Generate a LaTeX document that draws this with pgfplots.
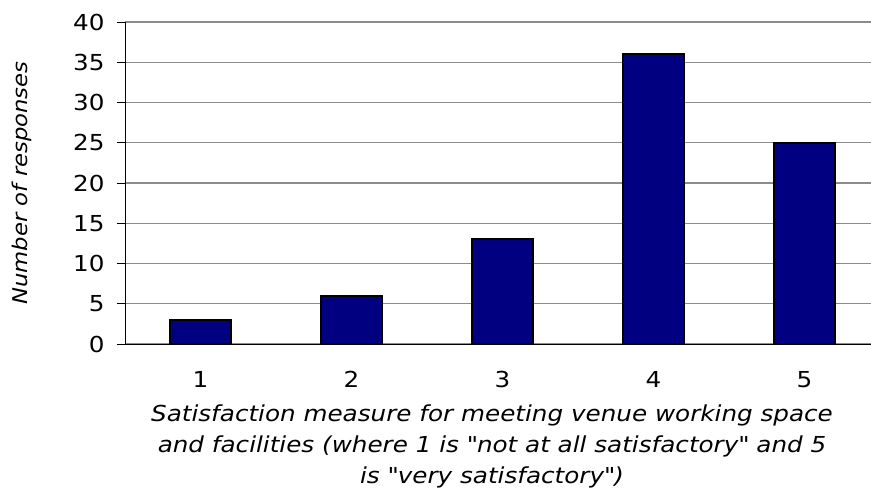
\documentclass[border=0pt]{standalone}
\usepackage{pgfplots}
\pgfplotsset{compat=1.18}
\usepackage{fontspec}
\setmainfont[FakeStretch=1.12]{DejaVu Sans}
\begin{document}
\fontsize{22bp}{31bp}\selectfont
\begin{tikzpicture}
\begin{axis}[
  scale only axis,
  width=746bp, height=322bp,
  xmin=0.5, xmax=5.44,
  ymin=0, ymax=40,
  axis x line=bottom, axis y line=left,
  axis line style={-, black, line width=0.9bp},
  ytick={0,5,...,40},
  ymajorgrids,
  grid style={gray!90, line width=1.2bp},
  y tick style={black, line width=0.9bp},
  major tick length=8bp,
  tick align=outside,
  xtick={1,2,3,4,5},
  x tick style={draw=none},
  extra x ticks={0.5,1.5,2.5,3.5,4.5},
  extra x tick labels={},
  extra x tick style={major tick length=8bp, tick style={draw=black, line width=0.9bp}, grid=none},
  /pgf/number format/assume math mode=true,
  tick label style={font=\fontsize{22bp}{26bp}\selectfont},
  yticklabel style={xshift=-5bp},
  xticklabel style={yshift=-12bp},
  ylabel={\itshape Number of responses},
  ylabel style={font=\fontsize{20.3bp}{24bp}\selectfont, at={(rel axis cs:0,0.5)}, anchor=center, yshift=103bp},
  xlabel={\itshape Satisfaction measure for meeting venue working space\\\itshape and facilities (where 1 is \textquotedbl not at all satisfactory\textquotedbl{} and 5\\\itshape is \textquotedbl very satisfactory\textquotedbl)},
  xlabel style={font=\fontsize{22bp}{31bp}\selectfont, align=center, yshift=14bp, xshift=-6bp},
  ybar, bar width=0.4,
]
\addplot[fill={rgb,255:red,0;green,0;blue,128}, draw=black, line width=1.8bp] coordinates {(1,3) (2,6) (3,13) (4,36) (5,25)};
\end{axis}
\pgfresetboundingbox
\useasboundingbox ([xshift=-125bp,yshift=-145bp]current axis.south west) rectangle ([yshift=22bp]current axis.north east);
\end{tikzpicture}
\end{document}
